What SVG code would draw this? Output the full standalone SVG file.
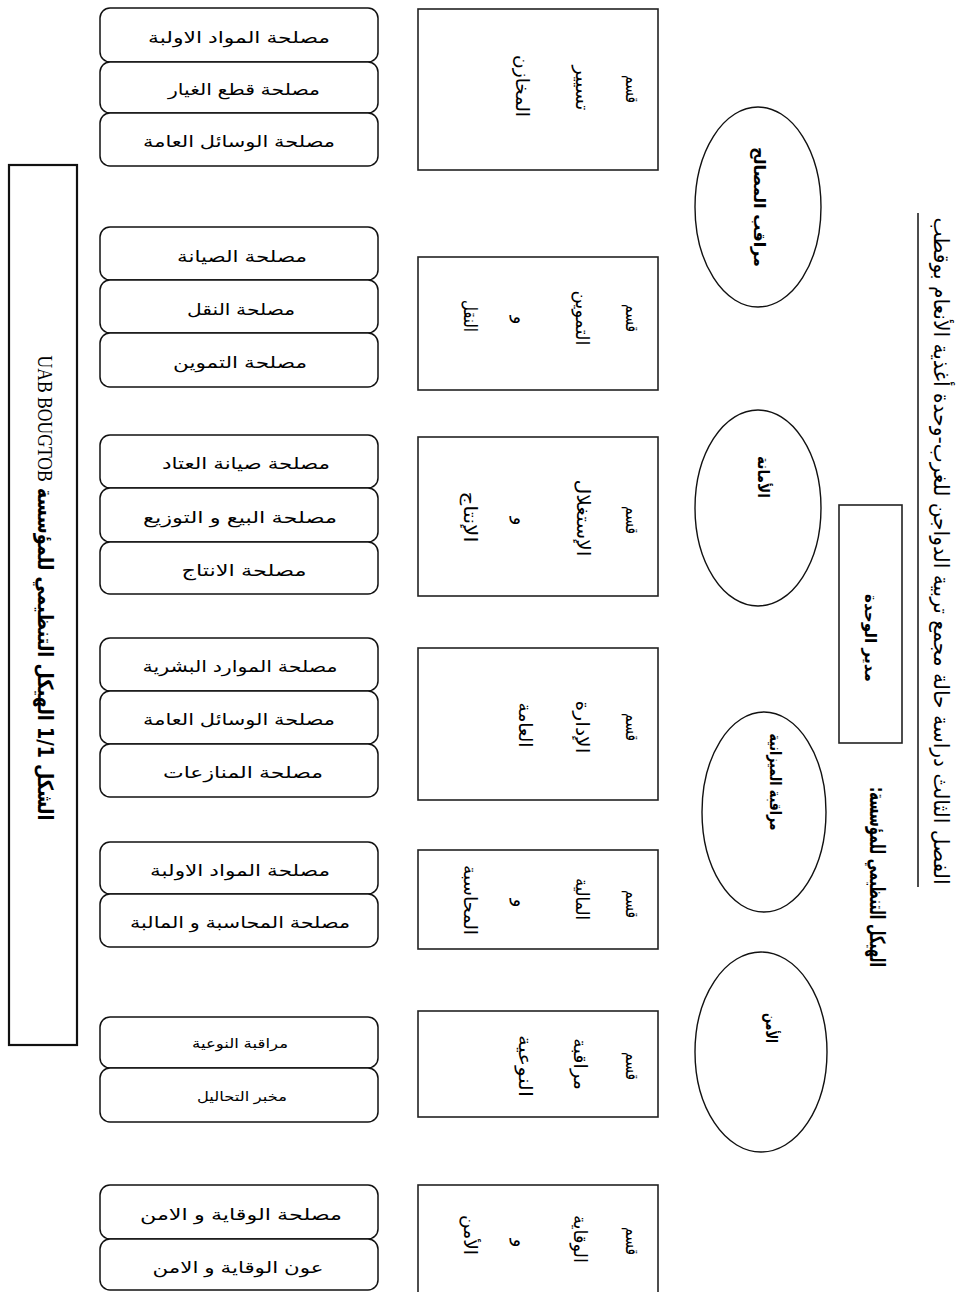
<svg xmlns="http://www.w3.org/2000/svg" width="959" height="1292" viewBox="0 0 959 1292">
<style>
.bg{fill:#ffffff}
.rbox{fill:#fff;stroke:#111;stroke-width:1.5}
.mbox{fill:#fff;stroke:#222;stroke-width:1.6}
.ell{fill:#fff;stroke:#111;stroke-width:1.4}
.t{font-family:"Liberation Sans","DejaVu Sans",sans-serif;font-size:16px;fill:#000;text-anchor:middle;dominant-baseline:central}
.v{font-family:"DejaVu Sans","Liberation Sans",sans-serif;font-size:16px;fill:#000;text-anchor:middle;dominant-baseline:central;font-weight:bold}
.w{font-weight:normal;font-size:18px}
.s{font-size:13px}
.ti{font-family:"DejaVu Sans","Liberation Serif",serif;font-size:21px;fill:#000;text-anchor:middle;dominant-baseline:central}
</style>
<rect class="bg" x="0" y="0" width="959" height="1292"/>

<g id="title">
<text class="ti" direction="rtl" transform="translate(941,551) rotate(90)" textLength="667" lengthAdjust="spacingAndGlyphs">الفصل الثالث دراسة حالة مجمع تربية الدواجن للغرب-وحدة أغذية الأنعام بوقطب</text>
<line x1="918" y1="213" x2="918" y2="887" stroke="#111" stroke-width="1.5"/>
</g>
<g id="subtitle">
<text class="ti" direction="rtl" font-weight="bold" transform="translate(877,877) rotate(90)" textLength="180" lengthAdjust="spacingAndGlyphs">الهيكل التنظيمي للمؤسسة:</text>
</g>

<g id="director">
<rect class="mbox" x="839" y="505" width="63" height="238"/>
<text class="v" transform="translate(870,638) rotate(90)" textLength="88" lengthAdjust="spacingAndGlyphs">مدير الوحدة</text>
</g>

<g id="e1"><ellipse class="ell" cx="758" cy="207" rx="63" ry="100"/>
<text class="v" font-size="17" transform="translate(759,207) rotate(90)" textLength="120" lengthAdjust="spacingAndGlyphs">مراقب المصالح</text></g>
<g id="e2"><ellipse class="ell" cx="758" cy="508" rx="63" ry="98"/>
<text class="v" font-size="17" transform="translate(763,477) rotate(90)" textLength="42" lengthAdjust="spacingAndGlyphs">الأمانة</text></g>
<g id="e3"><ellipse class="ell" cx="764" cy="812" rx="62" ry="100"/>
<text class="v" font-size="17" transform="translate(775,782) rotate(90)" textLength="97" lengthAdjust="spacingAndGlyphs">مراقبة الميزانية</text></g>
<g id="e4"><ellipse class="ell" cx="761" cy="1052" rx="66" ry="100"/>
<text class="v" font-size="17" transform="translate(771,1028) rotate(90)" textLength="30" lengthAdjust="spacingAndGlyphs">الأمن</text></g>

<g id="d1"><rect class="mbox" x="418" y="9" width="240" height="161"/>
<text class="v w" transform="translate(632,89) rotate(90)" textLength="28" lengthAdjust="spacingAndGlyphs">قسم</text>
<text class="v w" transform="translate(582,88) rotate(90)" textLength="45" lengthAdjust="spacingAndGlyphs">تسيير</text>
<text class="v w" transform="translate(522,86) rotate(90)" textLength="62" lengthAdjust="spacingAndGlyphs">المخازن</text></g>

<g id="d2"><rect class="mbox" x="418" y="257" width="240" height="133"/>
<text class="v w" transform="translate(632,318) rotate(90)" textLength="28" lengthAdjust="spacingAndGlyphs">قسم</text>
<text class="v w" transform="translate(582,318) rotate(90)" textLength="55" lengthAdjust="spacingAndGlyphs">التموين</text>
<text class="v w" transform="translate(520,320) rotate(90)">و</text>
<text class="v w" transform="translate(470,316) rotate(90)" textLength="32" lengthAdjust="spacingAndGlyphs">النقل</text></g>

<g id="d3"><rect class="mbox" x="418" y="437" width="240" height="159"/>
<text class="v w" transform="translate(632,520) rotate(90)" textLength="28" lengthAdjust="spacingAndGlyphs">قسم</text>
<text class="v w" transform="translate(583,518) rotate(90)" textLength="77" lengthAdjust="spacingAndGlyphs">الإستغلال</text>
<text class="v w" transform="translate(520,521) rotate(90)">و</text>
<text class="v w" transform="translate(470,517) rotate(90)" textLength="51" lengthAdjust="spacingAndGlyphs">الإنتاج</text></g>

<g id="d4"><rect class="mbox" x="418" y="648" width="240" height="152"/>
<text class="v w" transform="translate(632,727) rotate(90)" textLength="28" lengthAdjust="spacingAndGlyphs">قسم</text>
<text class="v w" transform="translate(582,727) rotate(90)" textLength="53" lengthAdjust="spacingAndGlyphs">الإدارة</text>
<text class="v w" transform="translate(525,725) rotate(90)" textLength="45" lengthAdjust="spacingAndGlyphs">العامة</text></g>

<g id="d5"><rect class="mbox" x="418" y="850" width="240" height="99"/>
<text class="v w" transform="translate(632,904) rotate(90)" textLength="28" lengthAdjust="spacingAndGlyphs">قسم</text>
<text class="v w" transform="translate(582,899) rotate(90)" textLength="42" lengthAdjust="spacingAndGlyphs">المالية</text>
<text class="v w" transform="translate(520,903) rotate(90)">و</text>
<text class="v w" transform="translate(470,900) rotate(90)" textLength="70" lengthAdjust="spacingAndGlyphs">المحاسبة</text></g>

<g id="d6"><rect class="mbox" x="418" y="1011" width="240" height="106"/>
<text class="v w" transform="translate(632,1066) rotate(90)" textLength="28" lengthAdjust="spacingAndGlyphs">قسم</text>
<text class="v w" transform="translate(580,1064) rotate(90)" textLength="52" lengthAdjust="spacingAndGlyphs">مراقبة</text>
<text class="v w" transform="translate(525,1066) rotate(90)" textLength="62" lengthAdjust="spacingAndGlyphs">النوعية</text></g>

<g id="d7"><rect class="mbox" x="418" y="1185" width="240" height="120"/>
<text class="v w" transform="translate(632,1241) rotate(90)" textLength="28" lengthAdjust="spacingAndGlyphs">قسم</text>
<text class="v w" transform="translate(580,1239) rotate(90)" textLength="48" lengthAdjust="spacingAndGlyphs">الوقاية</text>
<text class="v w" transform="translate(520,1243) rotate(90)">و</text>
<text class="v w" transform="translate(470,1235) rotate(90)" textLength="40" lengthAdjust="spacingAndGlyphs">الأمن</text></g>

<g id="s1">
<rect class="rbox" x="100" y="8" width="278" height="54" rx="10"/>
<text class="t" x="239" y="37" textLength="182" lengthAdjust="spacingAndGlyphs">مصلحة المواد الاولبة</text>
<rect class="rbox" x="100" y="62" width="278" height="51" rx="10"/>
<text class="t" x="244" y="89" textLength="152" lengthAdjust="spacingAndGlyphs">مصلحة قطع الغيار</text>
<rect class="rbox" x="100" y="113" width="278" height="53" rx="10"/>
<text class="t" x="239" y="141" textLength="192" lengthAdjust="spacingAndGlyphs">مصلحة الوسائل العامة</text>
</g>
<g id="s2">
<rect class="rbox" x="100" y="227" width="278" height="53" rx="10"/>
<text class="t" x="242" y="256" textLength="130" lengthAdjust="spacingAndGlyphs">مصلحة الصيانة</text>
<rect class="rbox" x="100" y="280" width="278" height="53" rx="10"/>
<text class="t" x="241" y="309" textLength="108" lengthAdjust="spacingAndGlyphs">مصلحة النقل</text>
<rect class="rbox" x="100" y="333" width="278" height="54" rx="10"/>
<text class="t" x="240" y="362" textLength="134" lengthAdjust="spacingAndGlyphs">مصلحة التموين</text>
</g>
<g id="s3">
<rect class="rbox" x="100" y="435" width="278" height="53" rx="10"/>
<text class="t" x="246" y="463" textLength="168" lengthAdjust="spacingAndGlyphs">مصلحة صيانة العتاد</text>
<rect class="rbox" x="100" y="488" width="278" height="54" rx="10"/>
<text class="t" x="240" y="517" textLength="194" lengthAdjust="spacingAndGlyphs">مصلحة البيع و التوزيع</text>
<rect class="rbox" x="100" y="542" width="278" height="52" rx="10"/>
<text class="t" x="244" y="570" textLength="125" lengthAdjust="spacingAndGlyphs">مصلحة الانتاج</text>
</g>
<g id="s4">
<rect class="rbox" x="100" y="638" width="278" height="53" rx="10"/>
<text class="t" x="240" y="666" textLength="195" lengthAdjust="spacingAndGlyphs">مصلحة الموارد البشرية</text>
<rect class="rbox" x="100" y="691" width="278" height="53" rx="10"/>
<text class="t" x="239" y="719" textLength="192" lengthAdjust="spacingAndGlyphs">مصلحة الوسائل العامة</text>
<rect class="rbox" x="100" y="744" width="278" height="53" rx="10"/>
<text class="t" x="243" y="772" textLength="160" lengthAdjust="spacingAndGlyphs">مصلحة المنازعات</text>
</g>
<g id="s5">
<rect class="rbox" x="100" y="842" width="278" height="52" rx="10"/>
<text class="t" x="240" y="870" textLength="180" lengthAdjust="spacingAndGlyphs">مصلحة المواد الاولبة</text>
<rect class="rbox" x="100" y="894" width="278" height="53" rx="10"/>
<text class="t" x="240" y="922" textLength="220" lengthAdjust="spacingAndGlyphs">مصلحة المحاسبة و المالبة</text>
</g>
<g id="s6">
<rect class="rbox" x="100" y="1017" width="278" height="51" rx="10"/>
<text class="t s" x="240" y="1043" textLength="96" lengthAdjust="spacingAndGlyphs">مراقبة النوعية</text>
<rect class="rbox" x="100" y="1068" width="278" height="54" rx="10"/>
<text class="t s" x="242" y="1096" textLength="90" lengthAdjust="spacingAndGlyphs">مخبر التحاليل</text>
</g>
<g id="s7">
<rect class="rbox" x="100" y="1185" width="278" height="54" rx="10"/>
<text class="t" x="241" y="1214" textLength="202" lengthAdjust="spacingAndGlyphs">مصلحة الوقاية و الامن</text>
<rect class="rbox" x="100" y="1239" width="278" height="51" rx="10"/>
<text class="t" x="238" y="1267" textLength="171" lengthAdjust="spacingAndGlyphs">عون الوقاية و الامن</text>
</g>

<g id="caption">
<rect x="9" y="165" width="68" height="880" fill="#fff" stroke="#111" stroke-width="2.2"/>
<text class="ti" direction="rtl" font-size="19" font-weight="bold" transform="translate(45,588) rotate(90)" textLength="465" lengthAdjust="spacingAndGlyphs">الشكل 1/1 الهيكل التنظيمي للمؤسسة <tspan font-family="Liberation Serif" font-weight="normal">UAB BOUGTOB</tspan></text>
</g>

<g id="connectors"></g>
</svg>
